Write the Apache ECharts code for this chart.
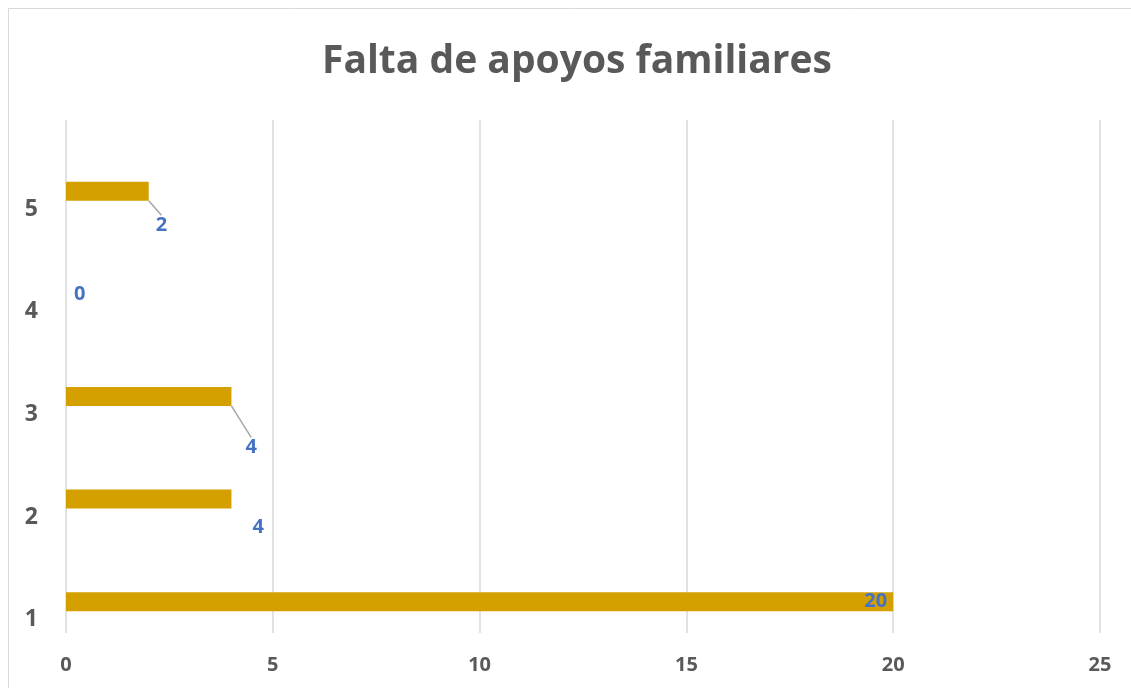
<!DOCTYPE html>
<html>
<head>
<meta charset="utf-8">
<script src="https://cdn.jsdelivr.net/npm/echarts@6/dist/echarts.min.js"></script>
<style>
  html, body { margin: 0; padding: 0; background: #fff; }
  #chart { width: 1131px; height: 688px; }
</style>
</head>
<body>
<div id="chart"></div>
<script>
  // datos
  var categorias = ['1', '2', '3', '4', '5'];
  var valores = [20, 4, 4, 0, 2];
  var ticksX = [0, 5, 10, 15, 20, 25];

  // posicion de cada etiqueta (como en el original)
  var posiciones = ['insideRight', 'right', 'right', 'right', 'right'];
  var desplazamientos = [
    { dx: 0, dy: 0 },
    { dx: 15, dy: 28 },
    { dx: 8, dy: 51 },
    { dx: 2, dy: 0 },
    { dx: 1, dy: 34 }
  ];
  var conLinea = [false, false, true, false, true];

  var chart = echarts.init(document.getElementById('chart'));

  var datos = valores.map(function (v, i) {
    return {
      value: v,
      label: { position: posiciones[i] },
      labelLine: { show: conLinea[i] }
    };
  });

  var option = {
    backgroundColor: '#fff',
    animation: false,
    title: {
      text: 'Falta de apoyos familiares',
      left: 317,
      top: 37,
      textStyle: {
        fontFamily: 'Open Sans',
        fontWeight: 'bold',
        fontSize: 39,
        color: '#595959'
      }
    },
    graphic: [{
      type: 'rect',
      shape: { x: 8.5, y: 8.5, width: 1140, height: 700 },
      style: { fill: 'none', stroke: '#d9d9d9', lineWidth: 1 },
      silent: true
    }],
    grid: { left: 66, right: 31, top: 120, bottom: 55 },
    xAxis: {
      type: 'value',
      min: 0,
      max: 25,
      interval: 5,
      axisLine: { show: false },
      axisTick: { show: false },
      axisLabel: {
        margin: 22,
        fontFamily: 'Open Sans',
        fontWeight: 'bold',
        fontSize: 20,
        color: '#595959',
        formatter: function (v) { return ticksX.indexOf(v) >= 0 ? String(v) : ''; }
      },
      splitLine: { lineStyle: { color: '#d9d9d9', width: 1.5 } }
    },
    yAxis: {
      type: 'category',
      data: categorias,
      axisLine: { show: false },
      axisTick: { show: false },
      axisLabel: {
        margin: 28,
        formatter: function (v) { return '{a|}\n{b|' + v + '}'; },
        rich: {
          a: { lineHeight: 76 },
          b: {
            lineHeight: 22,
            fontFamily: 'Open Sans',
            fontWeight: 'bold',
            fontSize: 23,
            color: '#595959'
          }
        }
      },
      splitLine: { show: false }
    },
    series: [
      {
        name: 'vacio',
        type: 'bar',
        data: [null, null, null, null, null],
        barWidth: 19,
        silent: true
      },
      {
        name: 'Falta de apoyos familiares',
        type: 'bar',
        data: datos,
        barWidth: 19,
        barGap: '110%',
        itemStyle: { color: '#d4a000' },
        label: {
          show: true,
          distance: 6,
          fontFamily: 'Open Sans',
          fontWeight: 'bold',
          fontSize: 20,
          color: '#4472c4'
        },
        labelLine: { lineStyle: { color: '#a6a6a6', width: 1.5 } },
        labelLayout: function (p) {
          var d = desplazamientos[p.dataIndex];
          return { dx: d.dx, dy: d.dy };
        }
      }
    ]
  };

  chart.setOption(option);
</script>
</body>
</html>
